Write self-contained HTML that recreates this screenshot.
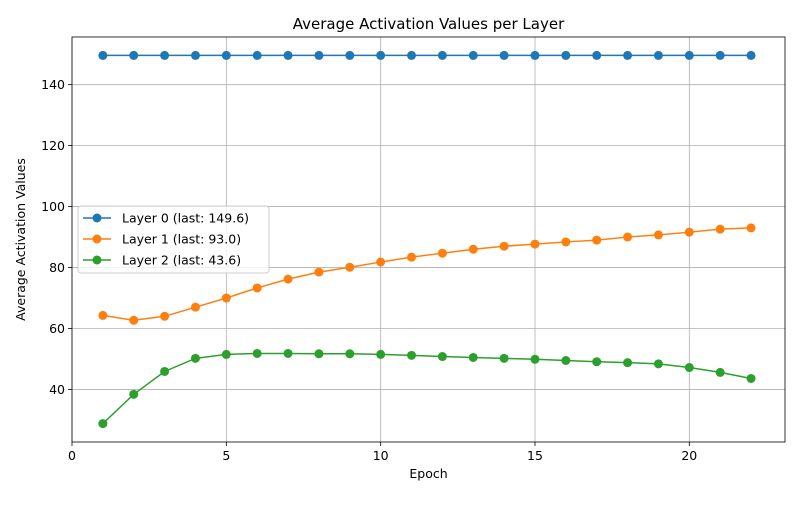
<!DOCTYPE html>
<html><head><meta charset="utf-8"><style>
body{margin:0;background:#fff;font-family:"Liberation Sans","DejaVu Sans",sans-serif;}
svg text{font-family:"DejaVu Sans","Liberation Sans",sans-serif;}
</style></head><body>
<svg id="chart" width="800" height="500"></svg>
<script>
const epochs=[1,2,3,4,5,6,7,8,9,10,11,12,13,14,15,16,17,18,19,20,21,22];
const layer0=[149.6,149.6,149.6,149.6,149.6,149.6,149.6,149.6,149.6,149.6,149.6,149.6,149.6,149.6,149.6,149.6,149.6,149.6,149.6,149.6,149.6,149.6];
const layer1=[64.3,62.7,64.0,67.0,70.0,73.3,76.2,78.5,80.1,81.8,83.4,84.7,86.0,87.0,87.7,88.4,89.0,90.0,90.7,91.6,92.6,93.0];
const layer2=[28.8,38.4,45.9,50.2,51.5,51.8,51.8,51.7,51.7,51.5,51.2,50.8,50.5,50.2,49.9,49.5,49.1,48.8,48.4,47.2,45.6,43.6];
const xTicks=[0,5,10,15,20];
const yTicks=[40,60,80,100,120,140];
const seriesNames=["Layer 0 (last: 149.6)","Layer 1 (last: 93.0)","Layer 2 (last: 43.6)"];
const colors=["#1f77b4","#ff7f0e","#2ca02c"];
const L=72,R=785,T=37,B=442;
const xmin=0.0,xmax=23.1,ymin=22.76,ymax=155.64;
const sx=v=>L+(v-xmin)/(xmax-xmin)*(R-L);
const sy=v=>B-(v-ymin)/(ymax-ymin)*(B-T);
const svg=document.getElementById('chart');
const NS='http://www.w3.org/2000/svg';
function mk(tag,attrs,parent){const e=document.createElementNS(NS,tag);for(const k in attrs)e.setAttribute(k,attrs[k]);(parent||svg).appendChild(e);return e;}
xTicks.forEach(t=>{
  const g=mk('line',{x1:sx(t),x2:sx(t),y1:T,y2:B,stroke:'#b0b0b0','stroke-width':0.8});
  
  
  mk('line',{x1:sx(t),x2:sx(t),y1:B,y2:B+4,stroke:'#000','stroke-width':0.8});
  const tx=mk('text',{x:sx(t),y:B+18,'text-anchor':'middle','font-size':12.5});
  tx.textContent=t;
  
  
});
yTicks.forEach(t=>{
  const g=mk('line',{x1:L,x2:R,y1:sy(t),y2:sy(t),stroke:'#b0b0b0','stroke-width':0.8});
  
  
  mk('line',{x1:L-4,x2:L,y1:sy(t),y2:sy(t),stroke:'#000','stroke-width':0.8});
  const tx=mk('text',{x:L-7,y:sy(t)+4.5,'text-anchor':'end','font-size':12.5});
  tx.textContent=t;
  
  
});
[layer0,layer1,layer2].forEach((s,i)=>{
  const pts=s.map((v,j)=>sx(epochs[j])+','+sy(v)).join(' ');
  const pl=mk('polyline',{points:pts,fill:'none',stroke:colors[i],'stroke-width':1.5});
  
  
  s.forEach((v,j)=>{
    const c=mk('circle',{cx:sx(epochs[j]),cy:sy(v),r:4.5,fill:colors[i]});
    
    
  });
});
const fr=mk('rect',{x:L,y:T,width:R-L,height:B-T,fill:'none',stroke:'#000','stroke-width':0.8});


const ti=mk('text',{x:(L+R)/2,y:29,'text-anchor':'middle','font-size':15});
ti.textContent='Average Activation Values per Layer';


const xl=mk('text',{x:(L+R)/2,y:478,'text-anchor':'middle','font-size':12.5});
xl.textContent='Epoch';


const yl=mk('text',{x:0,y:0,'text-anchor':'middle','font-size':12.5,transform:'translate(25,'+((T+B)/2)+') rotate(-90)'});
yl.textContent='Average Activation Values';


const lg=mk('g',{});


mk('rect',{x:78,y:206,width:191,height:67,rx:3,fill:'#fff','fill-opacity':0.8,stroke:'#ccc','stroke-width':1},lg);
seriesNames.forEach((n,i)=>{
  const y=218+i*21;
  const e=mk('g',{},lg);
  
  
  mk('line',{x1:83,x2:111,y1:y,y2:y,stroke:colors[i],'stroke-width':1.5},e);
  mk('circle',{cx:97,cy:y,r:4.5,fill:colors[i]},e);
  const t=mk('text',{x:122,y:y+4.5,'font-size':12.5},e);
  t.textContent=n;
});
</script>
</body></html>
